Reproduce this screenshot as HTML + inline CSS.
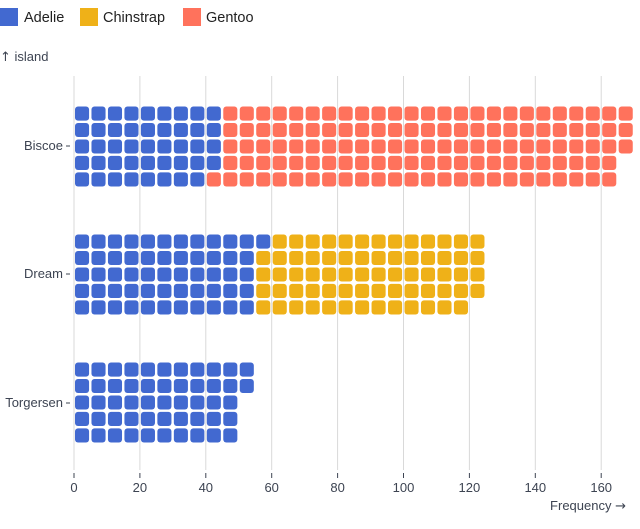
<!DOCTYPE html>
<html><head><meta charset="utf-8"><style>
body{margin:0;background:#fff;width:640px;height:529px;overflow:hidden}
svg{font-family:"Liberation Sans",sans-serif;display:block}
.ar{font-family:"DejaVu Sans",sans-serif}
</style></head><body>
<svg id="s" width="640" height="529" viewBox="0 0 640 529">
<rect x="0" y="8" width="18" height="18" fill="#4269d0"/>
<text x="24" y="22" font-size="14.5" fill="#222">Adelie</text>
<rect x="80" y="8" width="18" height="18" fill="#efb118"/>
<text x="103" y="22" font-size="14.5" fill="#222">Chinstrap</text>
<rect x="183" y="8" width="18" height="18" fill="#ff725c"/>
<text x="206" y="22" font-size="14.5" fill="#222">Gentoo</text>
<text x="0" y="61" font-size="13" fill="#3d4452"><tspan class="ar">↑</tspan> island</text>
<g id="grid" stroke="#d9d9d9" stroke-width="1"></g>
<g id="cells"></g>
<g font-size="13" fill="#3d4452" text-anchor="end">
<text x="63" y="150">Biscoe</text>
<text x="63" y="278">Dream</text>
<text x="63" y="407">Torgersen</text>
</g>
<g stroke="#3d4452"><line x1="66" x2="70" y1="146" y2="146"/><line x1="66" x2="70" y1="274" y2="274"/><line x1="66" x2="70" y1="403" y2="403"/></g>
<g id="ticks" font-size="13" fill="#3d4452" text-anchor="middle"></g>
<text x="626" y="510" font-size="13" fill="#3d4452" text-anchor="end">Frequency <tspan class="ar">→</tspan></text>
</svg>
<script>
var ns="http://www.w3.org/2000/svg";
function el(p,t,a,txt){var e=document.createElementNS(ns,t);for(var k in a)e.setAttribute(k,a[k]);if(txt)e.textContent=txt;document.getElementById(p).appendChild(e);}
var u=3.295;
for(var v=0;v<=160;v+=20){var x=74+v*u;el("grid","line",{x1:x,x2:x,y1:76,y2:470});
el("ticks","line",{x1:x,x2:x,y1:473,y2:478,stroke:"#3d4452"});el("ticks","text",{x:x,y:492},String(v));}
var col={A:"#4269d0",C:"#efb118",G:"#ff725c"};
var bands=[[106.5,[["A",44],["G",124]]],[234.5,[["A",56],["C",68]]],[362.5,[["A",52]]]];
var p=5*u;
bands.forEach(function(b){var i=0;b[1].forEach(function(s){for(var k=0;k<s[1];k++,i++){var c=Math.floor(i/5),r=i%5;
el("cells","rect",{x:74+c*p+1,y:b[0]+r*p,width:p-2.4,height:p-2.4,rx:3,fill:col[s[0]]});}});});
</script>
</body></html>
